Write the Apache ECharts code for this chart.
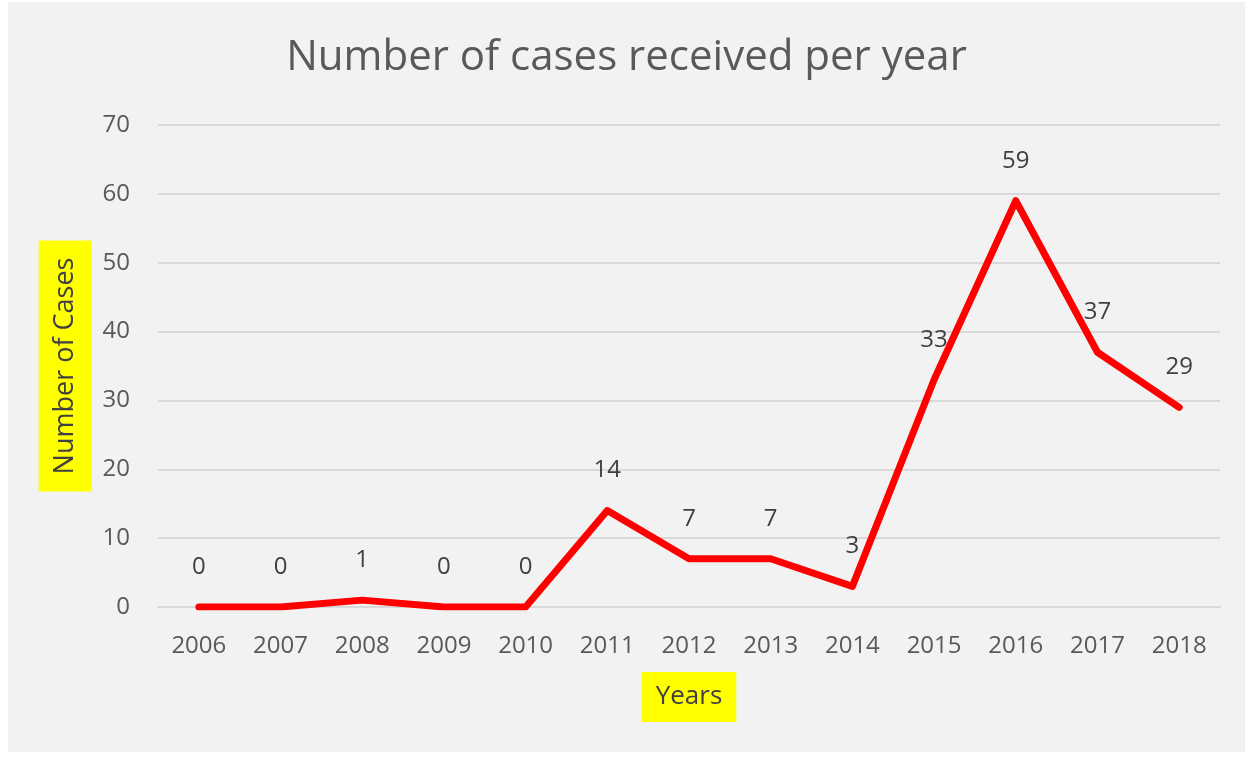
<!DOCTYPE html>
<html>
<head>
<meta charset="UTF-8">
<title>Number of cases received per year</title>
<script src="https://cdn.jsdelivr.net/npm/echarts@6/dist/echarts.min.js"></script>
<style>
  body { margin: 0; background: #ffffff; }
  #main { position: absolute; left: 8px; top: 2px; width: 1237px; height: 750px; background: #f2f2f2; }
</style>
</head>
<body>
<div id="main"></div>
<script>
  // 数据
  var years = ['2006', '2007', '2008', '2009', '2010', '2011', '2012', '2013', '2014', '2015', '2016', '2017', '2018'];
  var cases = [0, 0, 1, 0, 0, 14, 7, 7, 3, 33, 59, 37, 29];
  var yTicks = [0, 10, 20, 30, 40, 50, 60, 70];

  var fontName = '"Open Sans", "Noto Sans", sans-serif';
  var chart = echarts.init(document.getElementById('main'));

  var option = {
    backgroundColor: '#f2f2f2',
    title: {
      text: 'Number of cases received per year',
      left: 'center',
      top: 30,
      textStyle: { fontFamily: fontName, fontSize: 42, fontWeight: 'normal', color: '#595959' }
    },
    grid: { left: 150, right: 25, top: 123, bottom: 145 },
    xAxis: {
      type: 'category',
      data: years,
      boundaryGap: true,
      name: 'Years',
      nameLocation: 'middle',
      nameGap: 65,
      nameTextStyle: {
        fontFamily: fontName, fontSize: 26, color: '#404040',
        backgroundColor: '#ffff00', padding: [12, 14, 12, 14]
      },
      axisLine: { show: true, lineStyle: { color: '#d9d9d9', width: 2 } },
      axisTick: { show: false },
      axisLabel: { margin: 27, fontFamily: fontName, fontSize: 24, color: '#595959' }
    },
    yAxis: {
      type: 'value',
      min: yTicks[0],
      max: yTicks[yTicks.length - 1],
      interval: 10,
      name: 'Number of Cases',
      nameLocation: 'middle',
      nameGap: 66,
      nameRotate: 90,
      nameTextStyle: {
        fontFamily: fontName, fontSize: 27, color: '#404040',
        backgroundColor: '#ffff00', padding: [13, 17, 13, 17]
      },
      axisLine: { show: false },
      axisTick: { show: false },
      axisLabel: { margin: 28, fontFamily: fontName, fontSize: 24, color: '#595959' },
      splitLine: { lineStyle: { color: '#d9d9d9', width: 2 } }
    },
    series: [{
      name: 'Cases',
      type: 'line',
      data: cases,
      smooth: false,
      symbol: 'circle',
      symbolSize: 0,
      lineStyle: { color: '#ff0000', width: 7, join: 'round', cap: 'round' },
      label: {
        show: true,
        position: 'top',
        distance: 28,
        fontFamily: fontName,
        fontSize: 24,
        color: '#404040'
      }
    }]
  };

  chart.setOption(option);
</script>
</body>
</html>
